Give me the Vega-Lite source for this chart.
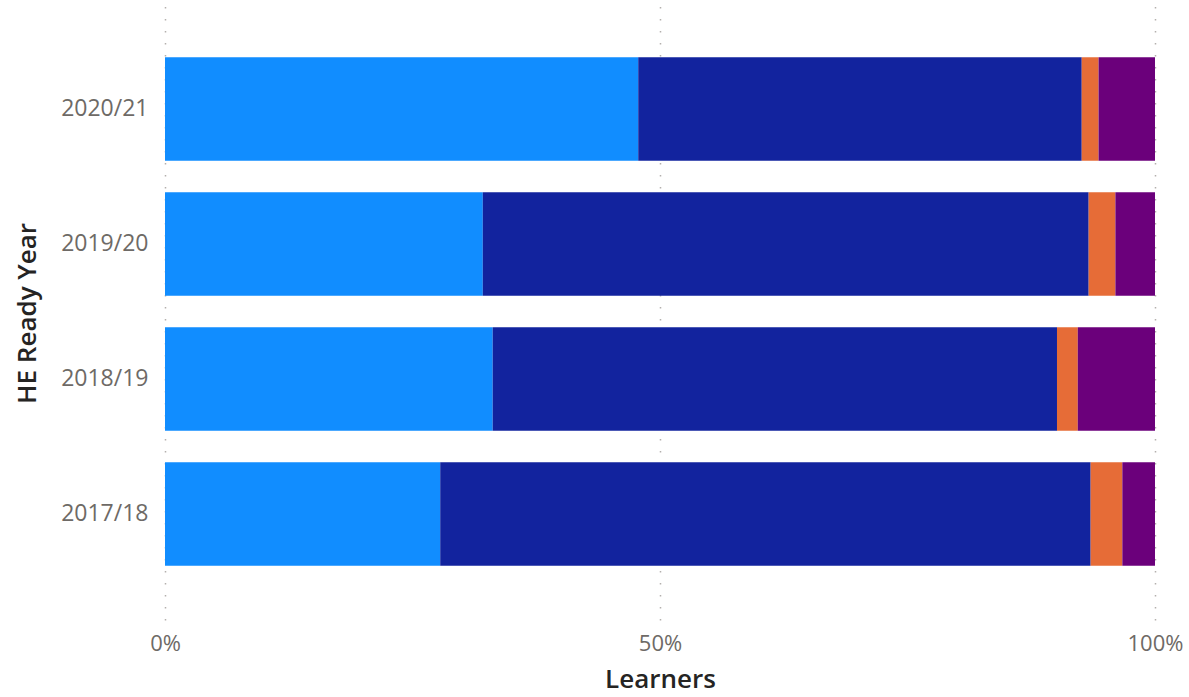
{
  "$schema": "https://vega.github.io/schema/vega-lite/v6.json",
  "autosize": "none",
  "width": 990,
  "height": 617,
  "padding": {"left": 165, "top": 3, "right": 34, "bottom": 77},
  "background": "white",
  "data": {
    "values": [
      {"year": "2020/21", "group": "Category A", "k": 1, "pct": 47.8},
      {"year": "2020/21", "group": "Category B", "k": 2, "pct": 44.8},
      {"year": "2020/21", "group": "Category C", "k": 3, "pct": 1.7},
      {"year": "2020/21", "group": "Category D", "k": 4, "pct": 5.7},
      {"year": "2019/20", "group": "Category A", "k": 1, "pct": 32.1},
      {"year": "2019/20", "group": "Category B", "k": 2, "pct": 61.2},
      {"year": "2019/20", "group": "Category C", "k": 3, "pct": 2.7},
      {"year": "2019/20", "group": "Category D", "k": 4, "pct": 4.0},
      {"year": "2018/19", "group": "Category A", "k": 1, "pct": 33.1},
      {"year": "2018/19", "group": "Category B", "k": 2, "pct": 57.0},
      {"year": "2018/19", "group": "Category C", "k": 3, "pct": 2.1},
      {"year": "2018/19", "group": "Category D", "k": 4, "pct": 7.8},
      {"year": "2017/18", "group": "Category A", "k": 1, "pct": 27.8},
      {"year": "2017/18", "group": "Category B", "k": 2, "pct": 65.7},
      {"year": "2017/18", "group": "Category C", "k": 3, "pct": 3.2},
      {"year": "2017/18", "group": "Category D", "k": 4, "pct": 3.3}
    ]
  },
  "mark": {"type": "bar", "cornerRadius": 0},
  "encoding": {
    "y": {
      "field": "year",
      "type": "nominal",
      "sort": ["2020/21", "2019/20", "2018/19", "2017/18"],
      "scale": {"paddingInner": 0.233, "paddingOuter": 0.402},
      "axis": {
        "title": "HE Ready Year",
        "domain": false,
        "ticks": false,
        "grid": false,
        "labelPadding": 17,
        "labelFont": "Open Sans",
        "labelFontSize": 23,
        "labelColor": "#6E6A66",
        "titleFont": "Open Sans",
        "titleFontSize": 26,
        "titleFontWeight": 600,
        "titleColor": "#252423",
        "titleX": -138,
        "titleY": 310,
        "titleAngle": -90,
        "titleAlign": "center",
        "titleBaseline": "middle"
      }
    },
    "x": {
      "field": "pct",
      "type": "quantitative",
      "stack": "normalize",
      "scale": {"domain": [0, 1], "nice": false},
      "axis": {
        "title": "Learners",
        "values": [0, 0.5, 1],
        "format": ".0%",
        "domain": false,
        "ticks": false,
        "grid": true,
        "gridColor": "#B3B0AD",
        "gridDash": [1.5, 10.5],
        "gridWidth": 1.5,
        "labelPadding": 13,
        "labelFont": "Open Sans",
        "labelFontSize": 22,
        "labelColor": "#6E6A66",
        "labelFlush": false,
        "titleFont": "Open Sans",
        "titleFontSize": 26,
        "titleFontWeight": 600,
        "titleColor": "#252423",
        "titleY": 59,
        "titleBaseline": "middle"
      }
    },
    "color": {
      "field": "group",
      "type": "nominal",
      "scale": {
        "domain": ["Category A", "Category B", "Category C", "Category D"],
        "range": ["#118DFF", "#12239E", "#E66C37", "#6B007B"]
      },
      "legend": null
    },
    "order": {"field": "k", "type": "quantitative", "sort": "ascending"}
  },
  "config": {"view": {"stroke": null}}
}
